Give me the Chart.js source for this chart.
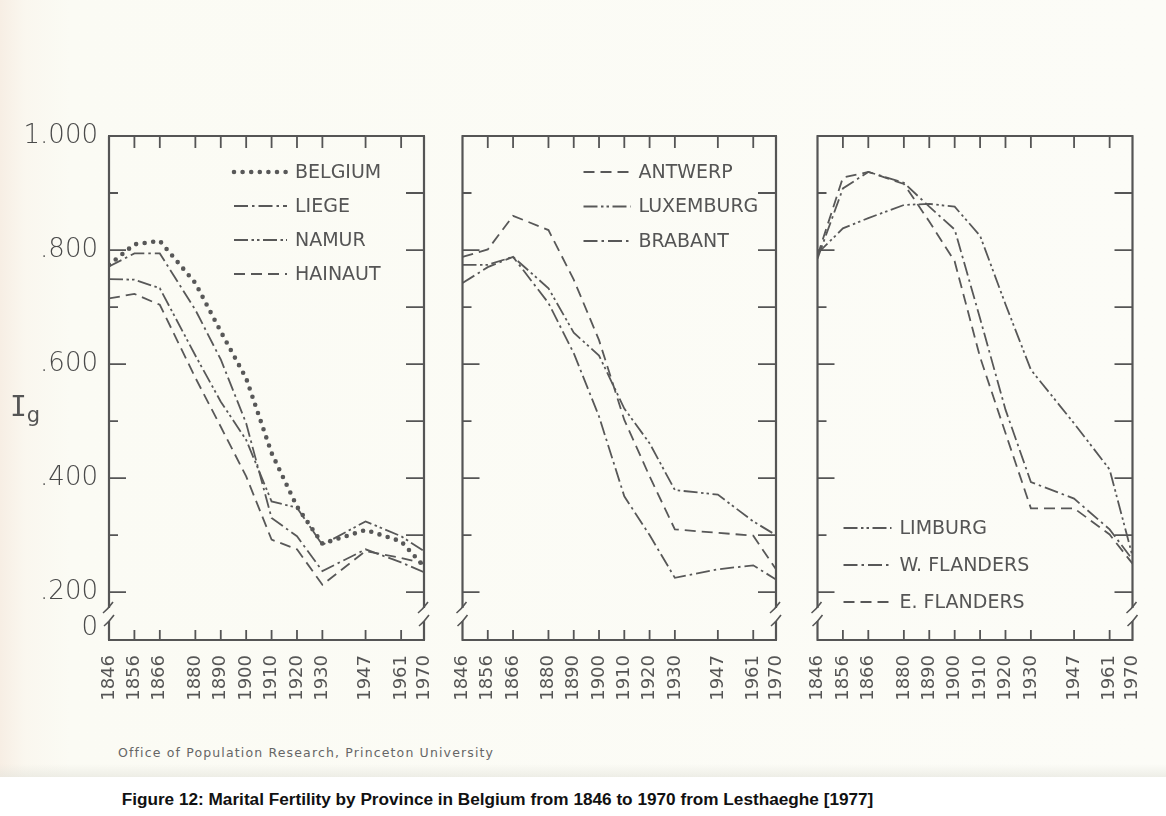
<!DOCTYPE html>
<html>
<head>
<meta charset="utf-8">
<script src="https://cdn.jsdelivr.net/npm/chart.js@4.4.1/dist/chart.umd.min.js"></script>
<style>
  html, body { margin: 0; padding: 0; }
  body { width: 1166px; height: 816px; position: relative; overflow: hidden; background: #ffffff; }
  #paper { position: absolute; left: 0; top: 0; width: 1166px; height: 777px;
           background: linear-gradient(to right, #f7eee4 0px, #faf7ef 25px, #fbfbf4 70px, #fcfcf7 100%); }
  #shade { position: absolute; left: 0; top: 764px; width: 1166px; height: 13px;
           background: linear-gradient(to bottom, rgba(235,235,228,0) 0%, rgba(228,228,220,0.6) 100%); }
  canvas { position: absolute; top: 0; }
  #c1 { left: 0; }
  #c2 { left: 440px; }
  #c3 { left: 790px; }
  #ig { position: absolute; left: 10px; top: 390px; font-family: 'DejaVu Sans Mono'; font-size: 28px; color: #555; }
  #ig sub { font-family: 'DejaVu Sans'; font-size: 21px; vertical-align: -6px; }
  #office { position: absolute; left: 118px; top: 745px; font-family: 'DejaVu Sans'; font-size: 12.5px;
            letter-spacing: 1.15px; color: #666; }
  #caption { position: absolute; left: 0; width: 995px; text-align: center; top: 789px;
             font-family: 'Liberation Sans'; font-weight: bold; font-size: 17.2px; color: #111; }
</style>
</head>
<body>
<div id="paper"></div>
<div id="shade"></div>
<canvas id="c1" width="440" height="720"></canvas>
<canvas id="c2" width="350" height="720"></canvas>
<canvas id="c3" width="376" height="720"></canvas>
<div id="ig">I<sub>g</sub></div>
<div id="office">Office of Population Research, Princeton University</div>
<div id="caption">Figure 12: Marital Fertility by Province in Belgium from 1846 to 1970 from Lesthaeghe [1977]</div>
<script>
// census years (x axis)
const years = [1846, 1856, 1866, 1880, 1890, 1900, 1910, 1920, 1930, 1947, 1961, 1970];

// Ig values
const belgium   = [0.774, 0.810, 0.816, 0.742, 0.657, 0.575, 0.444, 0.350, 0.285, 0.309, 0.289, 0.245];
const liege     = [0.771, 0.794, 0.794, 0.695, 0.608, 0.496, 0.330, 0.298, 0.237, 0.275, 0.252, 0.235];
const namur     = [0.749, 0.748, 0.733, 0.615, 0.534, 0.467, 0.359, 0.348, 0.283, 0.324, 0.298, 0.272];
const hainaut   = [0.715, 0.723, 0.704, 0.576, 0.490, 0.403, 0.292, 0.275, 0.213, 0.272, 0.260, 0.250];

const antwerp   = [0.788, 0.801, 0.860, 0.835, 0.748, 0.642, 0.502, 0.403, 0.310, 0.304, 0.299, 0.240];
const luxemburg = [0.774, 0.774, 0.788, 0.733, 0.655, 0.615, 0.522, 0.461, 0.379, 0.371, 0.324, 0.300];
const brabant   = [0.742, 0.770, 0.788, 0.707, 0.619, 0.508, 0.368, 0.300, 0.225, 0.240, 0.247, 0.222];

const limburg   = [0.794, 0.838, 0.856, 0.879, 0.881, 0.876, 0.825, 0.705, 0.590, 0.496, 0.415, 0.263];
const wFlanders = [0.785, 0.908, 0.937, 0.918, 0.876, 0.836, 0.680, 0.520, 0.393, 0.364, 0.310, 0.257];
const eFlanders = [0.790, 0.927, 0.937, 0.916, 0.850, 0.780, 0.612, 0.479, 0.347, 0.347, 0.301, 0.250];

// y axis: labelled ticks (the "0" sits just above the axis break)
const yTickValues = [0.136, 0.2, 0.4, 0.6, 0.8, 1.0];
const yTickLabels = ['0', '.200', '.400', '.600', '.800', '1.000'];
const yMarks = [0.2, 0.3, 0.4, 0.5, 0.6, 0.7, 0.8, 0.9];
const yMin = 0.116, yMax = 1.0;

const INK = '#585858';
const DOTS     = { borderDash: [0, 8.6], borderWidth: 4.6, borderCapStyle: 'round' };
const DASH_DOT = { borderDash: [14, 4, 2.5, 4], borderWidth: 1.8, borderCapStyle: 'butt' };
const DASH_2DT = { borderDash: [14, 3.5, 2.5, 3, 2.5, 3.5], borderWidth: 1.8, borderCapStyle: 'butt' };
const DASHED   = { borderDash: [11, 6], borderWidth: 1.8, borderCapStyle: 'butt' };

function series(label, values, style) {
    return Object.assign({
        label: label,
        data: values.map((v, i) => ({ x: years[i], y: v })),
        borderColor: INK,
        backgroundColor: INK,
        pointRadius: 0,
        tension: 0,
        fill: false
    }, style);
}

// box, inward tick marks and axis breaks
const framePlugin = {
    id: 'frame',
    afterDatasetsDraw(chart) {
        const { ctx, chartArea: a, scales: { x, y } } = chart;
        ctx.save();
        ctx.strokeStyle = '#555';
        ctx.setLineDash([]);
        ctx.lineCap = 'butt';
        ctx.lineWidth = 2.2;
        ctx.beginPath();
        ctx.moveTo(a.left - 1, a.top); ctx.lineTo(a.right + 1, a.top);
        ctx.moveTo(a.left - 1, a.bottom); ctx.lineTo(a.right + 1, a.bottom);
        [a.left, a.right].forEach(sx => {
            ctx.moveTo(sx, a.top); ctx.lineTo(sx, a.bottom - 32);
            ctx.moveTo(sx, a.bottom - 19); ctx.lineTo(sx, a.bottom);
        });
        ctx.stroke();

        ctx.lineWidth = 1.6;
        ctx.beginPath();
        [a.left, a.right].forEach(sx => {
            ctx.moveTo(sx - 6, a.bottom - 27); ctx.quadraticCurveTo(sx - 1, a.bottom - 31, sx + 4, a.bottom - 38);
            ctx.moveTo(sx - 5, a.bottom - 14); ctx.quadraticCurveTo(sx, a.bottom - 18, sx + 5, a.bottom - 25);
        });
        ctx.stroke();

        ctx.lineWidth = 1.8;
        ctx.beginPath();
        years.slice(1, -1).forEach(yr => {
            const px = x.getPixelForValue(yr);
            ctx.moveTo(px, a.top); ctx.lineTo(px, a.top + 12);
            ctx.moveTo(px, a.bottom); ctx.lineTo(px, a.bottom - 10);
        });
        yMarks.forEach(v => {
            const py = y.getPixelForValue(v);
            const major = Math.round(v * 10) % 2 === 0;
            ctx.moveTo(a.left, py); ctx.lineTo(a.left + (major ? 17 : 9), py);
            ctx.moveTo(a.right, py); ctx.lineTo(a.right - 18, py);
        });
        ctx.stroke();
        ctx.restore();
    }
};

// legend drawn inside the plot box with the series' own line styles
const keyPlugin = {
    id: 'key',
    afterDraw(chart, args, opts) {
        const { ctx, chartArea: a } = chart;
        ctx.save();
        ctx.font = '19px "DejaVu Sans"';
        ctx.fillStyle = '#555';
        ctx.textBaseline = 'middle';
        chart.data.datasets.forEach((ds, i) => {
            const ly = opts.top + i * opts.gap;
            const lx = a.left + opts.left;
            ctx.strokeStyle = ds.borderColor;
            ctx.lineWidth = ds.borderWidth;
            ctx.lineCap = ds.borderCapStyle;
            ctx.setLineDash(ds.borderDash);
            ctx.beginPath();
            ctx.moveTo(lx, ly); ctx.lineTo(lx + opts.len, ly);
            ctx.stroke();
            ctx.setLineDash([]);
            ctx.fillText(ds.label, lx + opts.len + 8, ly + 1);
        });
        ctx.restore();
    }
};

function makePanel(id, datasets, pad, showY, key) {
    return new Chart(document.getElementById(id), {
        type: 'line',
        data: { datasets: datasets },
        plugins: [framePlugin, keyPlugin],
        options: {
            responsive: false,
            animation: false,
            devicePixelRatio: 1,
            layout: { padding: pad },
            plugins: {
                legend: { display: false },
                tooltip: { enabled: false },
                key: key
            },
            scales: {
                x: {
                    type: 'linear',
                    min: 1846,
                    max: 1970,
                    afterBuildTicks: s => { s.ticks = years.map(v => ({ value: v })); },
                    afterFit: s => { s.height = 80; s.paddingLeft = 0; s.paddingRight = 0; },
                    ticks: {
                        autoSkip: false,
                        minRotation: 90,
                        maxRotation: 90,
                        padding: 15,
                        color: '#555',
                        font: { family: 'DejaVu Sans', size: 18 },
                        callback: v => String(v)
                    },
                    grid: { display: false, drawTicks: false },
                    border: { display: false }
                },
                y: {
                    type: 'linear',
                    min: yMin,
                    max: yMax,
                    display: showY,
                    afterBuildTicks: s => { s.ticks = yTickValues.map(v => ({ value: v })); },
                    afterFit: s => { s.width = showY ? 109 : 0; s.paddingTop = 0; s.paddingBottom = 0; },
                    ticks: {
                        padding: 11,
                        color: '#4a4a4a',
                        font: { family: 'DejaVu Sans', size: 26, weight: '200' },
                        callback: (v, i) => yTickLabels[i]
                    },
                    grid: { display: false, drawTicks: false },
                    border: { display: false }
                }
            }
        }
    });
}

makePanel('c1', [
    series('BELGIUM', belgium, DOTS),
    series('LIEGE', liege, DASH_DOT),
    series('NAMUR', namur, DASH_2DT),
    series('HAINAUT', hainaut, DASHED)
], { top: 136, right: 16, left: 0, bottom: 0 }, true, { left: 125, top: 172, gap: 34, len: 53 });

makePanel('c2', [
    series('ANTWERP', antwerp, DASHED),
    series('LUXEMBURG', luxemburg, DASH_2DT),
    series('BRABANT', brabant, DASH_DOT)
], { top: 136, right: 14, left: 22.5, bottom: 0 }, false, { left: 121, top: 172, gap: 34.5, len: 47 });

makePanel('c3', [
    series('LIMBURG', limburg, DASH_2DT),
    series('W. FLANDERS', wFlanders, DASH_DOT),
    series('E. FLANDERS', eFlanders, DASHED)
], { top: 136, right: 33.5, left: 27.5, bottom: 0 }, false, { left: 26, top: 528, gap: 37, len: 48 });
</script>
</body>
</html>
